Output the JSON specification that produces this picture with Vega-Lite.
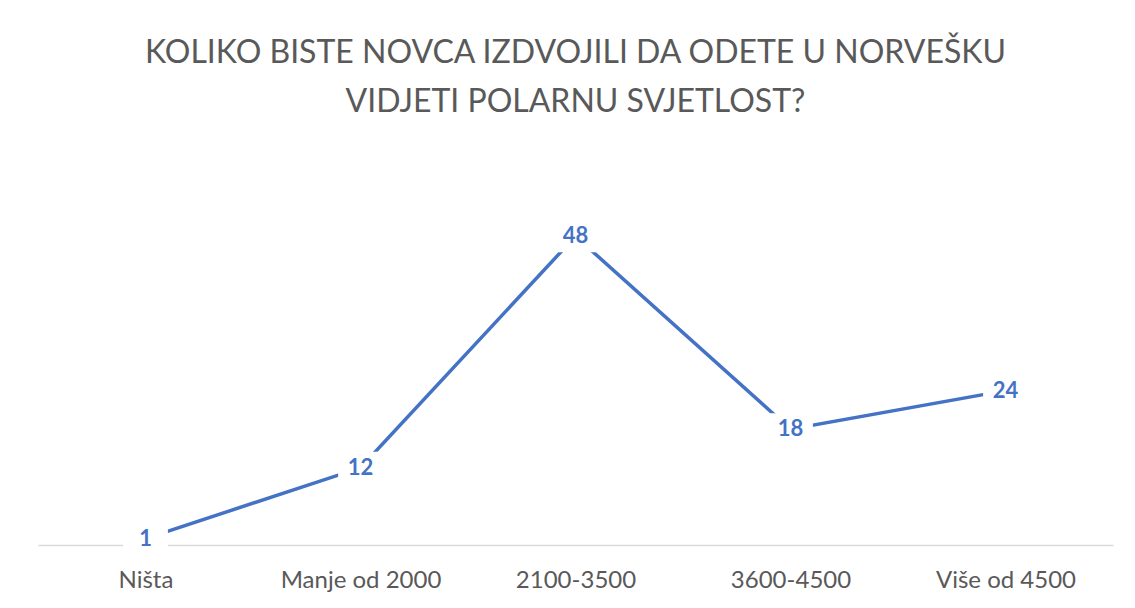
{
  "$schema": "https://vega.github.io/schema/vega-lite/v6.json",
  "autosize": {"type": "none"},
  "width": 1075,
  "height": 386,
  "padding": {"left": 38, "top": 159, "right": 22, "bottom": 63},
  "background": "white",
  "config": {"view": {"stroke": null}, "font": "Lato"},
  "title": {
    "text": ["KOLIKO BISTE NOVCA IZDVOJILI DA ODETE U NORVEŠKU", "VIDJETI POLARNU SVJETLOST?"],
    "font": "Lato",
    "fontSize": 32,
    "fontWeight": "normal",
    "color": "#595959",
    "lineHeight": 49,
    "anchor": "middle",
    "offset": 40
  },
  "data": {
    "values": [
      {"kategorija": "Ništa", "broj": 1},
      {"kategorija": "Manje od 2000", "broj": 12},
      {"kategorija": "2100-3500", "broj": 48},
      {"kategorija": "3600-4500", "broj": 18},
      {"kategorija": "Više od 4500", "broj": 24}
    ]
  },
  "encoding": {
    "x": {
      "field": "kategorija",
      "type": "ordinal",
      "sort": null,
      "scale": {"type": "point", "padding": 0.5},
      "axis": {
        "title": null,
        "labelAngle": 0,
        "ticks": false,
        "domainColor": "#D9D9D9",
        "domainWidth": 1.5,
        "labelColor": "#595959",
        "labelFont": "Lato",
        "labelFontSize": 24,
        "labelPadding": 23
      }
    },
    "y": {
      "field": "broj",
      "type": "quantitative",
      "scale": {"domain": [0, 60], "nice": false},
      "axis": null
    }
  },
  "layer": [
    {"mark": {"type": "line", "color": "#4472C4", "strokeWidth": 3.5}},
    {"mark": {"type": "point", "shape": "M-1.4,-1H1.4V1H-1.4Z", "size": 1024, "filled": true, "fill": "white", "opacity": 1, "strokeWidth": 0}},
    {"mark": {"type": "text", "color": "#4472C4", "fontWeight": "bold", "fontSize": 22, "baseline": "middle", "font": "Lato"}, "encoding": {"text": {"field": "broj", "type": "quantitative"}}}
  ]
}
